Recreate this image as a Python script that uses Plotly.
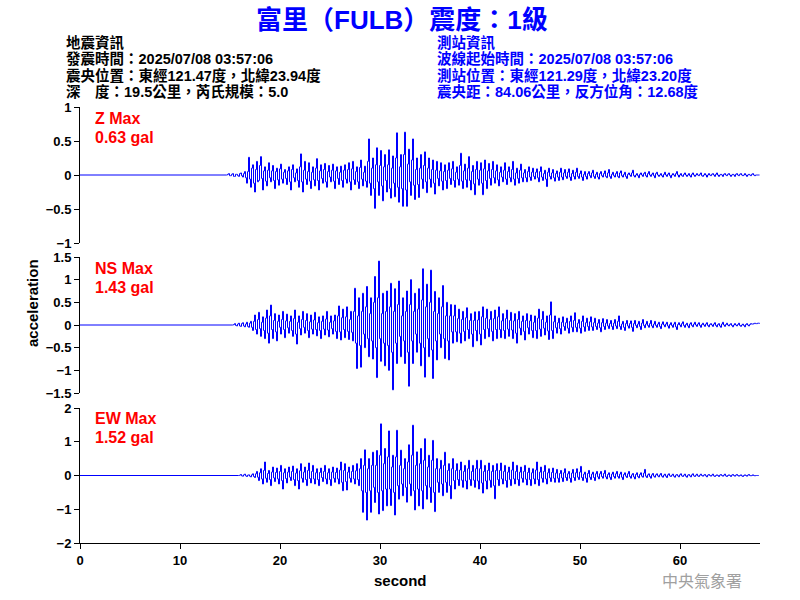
import plotly.graph_objects as go

# ---------------- data ----------------
dt = 0.1
z_t0, ns_t0, ew_t0 = 14.65, 15.25, 15.85

z_vals = [
    0.0, 0.01, 0.02, -0.01, -0.01, 0.01, 0.02, -0.02, -0.02, 0.01, 0.01, -0.01, -0.02, 0.02, 0.03, -0.01, -0.03, 0.02, 0.05, -0.04,
    -0.12, 0.05, 0.26, -0.06, -0.18, 0.1, 0.15, -0.12, -0.25, 0.08, 0.2, -0.1, -0.08, 0.14, 0.27, -0.05, -0.22, 0.06, 0.12, -0.09,
    -0.16, 0.07, 0.18, -0.04, -0.1, 0.06, 0.14, -0.08, -0.2, 0.05, 0.1, -0.07, -0.15, 0.09, 0.16, -0.06, -0.12, 0.04, 0.08, -0.05,
    -0.14, 0.06, 0.12, -0.1, -0.22, 0.08, 0.15, -0.04, -0.1, 0.03, 0.09, -0.08, -0.18, 0.12, 0.31, -0.1, -0.25, 0.07, 0.2, -0.06,
    -0.14, 0.05, 0.18, -0.09, -0.2, 0.04, 0.12, -0.07, -0.16, 0.1, 0.24, -0.08, -0.22, 0.06, 0.15, -0.05, -0.12, 0.08, 0.17, -0.1,
    -0.18, 0.05, 0.14, -0.03, -0.1, 0.07, 0.16, -0.09, -0.2, 0.06, 0.12, -0.05, -0.14, 0.04, 0.13, -0.08, -0.18, 0.07, 0.15, -0.06,
    -0.12, 0.08, 0.18, -0.1, -0.22, 0.09, 0.2, -0.07, -0.14, 0.05, 0.12, -0.1, -0.2, 0.11, 0.22, -0.06, -0.16, 0.04, 0.13, -0.09,
    -0.18, 0.2, 0.53, -0.12, -0.3, 0.1, 0.25, -0.2, -0.49, 0.15, 0.4, -0.1, -0.3, 0.14, 0.36, -0.16, -0.38, 0.12, 0.3, -0.08,
    -0.25, 0.15, 0.37, -0.2, -0.34, 0.1, 0.28, -0.12, -0.32, 0.25, 0.62, -0.18, -0.4, 0.12, 0.3, -0.2, -0.46, 0.3, 0.63, -0.22,
    -0.46, 0.16, 0.38, -0.1, -0.3, 0.22, 0.53, -0.15, -0.36, 0.08, 0.25, -0.14, -0.33, 0.1, 0.3, -0.06, -0.2, 0.14, 0.34, -0.1,
    -0.26, 0.1, 0.25, -0.06, -0.18, 0.08, 0.22, -0.12, -0.28, 0.07, 0.2, -0.05, -0.16, 0.06, 0.18, -0.09, -0.22, 0.05, 0.15, -0.08,
    -0.2, 0.07, 0.18, -0.05, -0.14, 0.09, 0.2, -0.08, -0.18, 0.04, 0.12, -0.06, -0.15, 0.14, 0.32, -0.09, -0.2, 0.06, 0.16, -0.07,
    -0.18, 0.1, 0.27, -0.08, -0.22, 0.05, 0.14, -0.13, -0.29, 0.08, 0.2, -0.06, -0.15, 0.07, 0.18, -0.12, -0.29, 0.09, 0.22, -0.08,
    -0.2, 0.06, 0.17, -0.05, -0.15, 0.08, 0.2, -0.04, -0.12, 0.06, 0.15, -0.07, -0.16, 0.04, 0.12, -0.03, -0.1, 0.07, 0.18, -0.06,
    -0.14, 0.05, 0.12, -0.04, -0.1, 0.08, 0.2, -0.06, -0.15, 0.03, 0.1, -0.05, -0.12, 0.07, 0.16, -0.04, -0.1, 0.03, 0.08, -0.04,
    -0.1, 0.05, 0.12, -0.03, -0.08, 0.04, 0.1, -0.02, -0.06, 0.04, 0.09, -0.04, -0.1, 0.05, 0.12, -0.03, -0.08, 0.02, 0.07, -0.06,
    -0.17, 0.04, 0.1, -0.02, -0.06, 0.03, 0.08, -0.04, -0.09, 0.02, 0.06, -0.03, -0.08, 0.04, 0.1, -0.03, -0.07, 0.03, 0.08, -0.02,
    -0.05, 0.04, 0.09, -0.03, -0.08, 0.02, 0.07, -0.02, -0.06, 0.04, 0.1, -0.02, -0.05, 0.02, 0.06, -0.03, -0.08, 0.01, 0.05, -0.02,
    -0.06, 0.02, 0.05, -0.01, -0.04, 0.03, 0.07, -0.02, -0.05, 0.01, 0.04, -0.03, -0.06, 0.02, 0.05, -0.01, -0.03, 0.02, 0.06, -0.02,
    -0.04, 0.03, 0.08, -0.02, -0.05, 0.01, 0.04, -0.01, -0.03, 0.02, 0.05, -0.02, -0.04, 0.03, 0.06, -0.01, -0.03, 0.01, 0.04, -0.02,
    -0.05, 0.01, 0.03, 0.0, -0.02, 0.03, 0.07, -0.01, -0.03, 0.0, 0.02, -0.01, -0.04, 0.01, 0.03, 0.0, -0.02, 0.02, 0.04, -0.01,
    -0.03, 0.02, 0.05, 0.0, -0.02, 0.01, 0.03, -0.01, -0.04, 0.02, 0.04, 0.0, -0.02, 0.0, 0.02, -0.01, -0.03, 0.01, 0.04, 0.0,
    -0.02, 0.01, 0.03, -0.01, -0.04, 0.0, 0.02, 0.0, -0.02, 0.02, 0.05, 0.0, -0.03, 0.0, 0.02, -0.01, -0.02, 0.01, 0.03, 0.0,
    -0.02, 0.0, 0.02, -0.01, -0.03, 0.01, 0.03, 0.0, -0.02, 0.0, 0.02, 0.0, -0.01, 0.01, 0.03, -0.01, -0.02, 0.0, 0.02, 0.0,
    -0.03, 0.0, 0.02, 0.0, -0.01, 0.01, 0.02, 0.0, -0.02, 0.01, 0.03, 0.0, -0.02, 0.0, 0.01, 0.0, -0.02, 0.01, 0.02, 0.0,
    -0.01, 0.01, 0.02, 0.0, -0.02, 0.0, 0.01, 0.0, -0.02, 0.01, 0.02, 0.0, -0.01, 0.01, 0.02, 0.0, -0.01, 0.0, 0.02, 0.0,
    -0.02, 0.0, 0.01, 0.0, -0.01, 0.01, 0.02, 0.0, -0.01, 0.0, 0.0, 0.0, 0.0, 0.0,
]

ns_vals = [
    0.0, 0.01, 0.03, -0.01, -0.02, 0.02, 0.04, -0.02, -0.03, 0.03, 0.05, -0.02, -0.04, 0.02, 0.06, -0.03, -0.05, 0.04, 0.08, -0.05,
    -0.12, 0.08, 0.22, -0.1, -0.2, 0.12, 0.28, -0.08, -0.25, 0.06, 0.18, -0.12, -0.3, 0.15, 0.33, -0.18, -0.4, 0.2, 0.44, -0.1,
    -0.3, 0.1, 0.25, -0.15, -0.35, 0.08, 0.22, -0.05, -0.2, 0.12, 0.3, -0.1, -0.28, 0.09, 0.24, -0.06, -0.18, 0.08, 0.2, -0.12,
    -0.25, 0.14, 0.33, -0.2, -0.42, 0.06, 0.2, -0.08, -0.22, 0.12, 0.3, -0.05, -0.18, 0.1, 0.25, -0.12, -0.28, 0.07, 0.22, -0.09,
    -0.2, 0.11, 0.28, -0.1, -0.24, 0.05, 0.18, -0.12, -0.3, 0.08, 0.2, -0.09, -0.22, 0.13, 0.3, -0.11, -0.26, 0.06, 0.2, -0.08,
    -0.2, 0.09, 0.22, -0.14, -0.3, 0.2, 0.42, -0.15, -0.33, 0.16, 0.35, -0.1, -0.28, 0.18, 0.4, -0.14, -0.32, 0.12, 0.3, -0.16,
    -0.35, 0.3, 0.81, -0.4, -0.96, 0.2, 0.6, -0.45, -0.93, 0.3, 0.7, -0.2, -0.5, 0.4, 0.85, -0.3, -0.7, 0.25, 0.6, -0.35,
    -0.75, 0.5, 1.07, -0.5, -1.16, 0.6, 1.41, -0.3, -0.8, 0.25, 0.7, -0.4, -0.9, 0.3, 0.75, -0.45, -1.0, 0.4, 0.92, -0.6,
    -1.43, 0.3, 0.8, -0.4, -0.85, 0.45, 0.97, -0.25, -0.7, 0.2, 0.6, -0.35, -0.85, 0.3, 0.75, -0.6, -1.35, 0.45, 1.0, -0.35,
    -0.85, 0.3, 0.7, -0.2, -0.6, 0.35, 0.8, -0.4, -0.9, 0.55, 1.24, -0.5, -1.15, 0.4, 0.9, -0.3, -0.7, 0.5, 1.21, -0.55,
    -1.18, 0.3, 0.74, -0.35, -0.77, 0.25, 0.6, -0.2, -0.5, 0.4, 0.87, -0.3, -0.74, 0.2, 0.5, -0.35, -0.77, 0.2, 0.45, -0.15,
    -0.4, 0.2, 0.44, -0.15, -0.37, 0.14, 0.35, -0.18, -0.4, 0.12, 0.3, -0.14, -0.35, 0.16, 0.38, -0.1, -0.3, 0.1, 0.25, -0.2,
    -0.48, 0.1, 0.29, -0.12, -0.35, 0.11, 0.3, -0.2, -0.44, 0.18, 0.4, -0.1, -0.3, 0.15, 0.35, -0.08, -0.26, 0.12, 0.3, -0.14,
    -0.35, 0.14, 0.33, -0.1, -0.3, 0.18, 0.4, -0.1, -0.28, 0.09, 0.25, -0.12, -0.3, 0.14, 0.33, -0.09, -0.25, 0.1, 0.28, -0.11,
    -0.3, 0.09, 0.25, -0.18, -0.4, 0.12, 0.3, -0.07, -0.22, 0.08, 0.2, -0.14, -0.33, 0.1, 0.25, -0.06, -0.2, 0.09, 0.22, -0.12,
    -0.28, 0.06, 0.2, -0.12, -0.3, 0.15, 0.35, -0.09, -0.25, 0.12, 0.3, -0.07, -0.22, 0.06, 0.2, -0.13, -0.32, 0.22, 0.51, -0.12,
    -0.3, 0.07, 0.2, -0.06, -0.18, 0.05, 0.15, -0.08, -0.2, 0.06, 0.18, -0.03, -0.12, 0.05, 0.15, -0.07, -0.18, 0.08, 0.2, -0.05,
    -0.15, 0.1, 0.27, -0.05, -0.15, 0.04, 0.12, -0.07, -0.18, 0.08, 0.2, -0.04, -0.14, 0.05, 0.15, -0.03, -0.12, 0.07, 0.18, -0.04,
    -0.12, 0.05, 0.15, -0.03, -0.1, 0.04, 0.12, -0.06, -0.15, 0.05, 0.14, -0.03, -0.1, 0.04, 0.12, -0.02, -0.08, 0.03, 0.1, -0.03,
    -0.1, 0.04, 0.12, -0.02, -0.08, 0.08, 0.2, -0.03, -0.1, 0.02, 0.08, -0.05, -0.12, 0.03, 0.1, -0.02, -0.07, 0.03, 0.09, -0.05,
    -0.14, 0.03, 0.1, -0.01, -0.06, 0.02, 0.08, -0.03, -0.1, 0.04, 0.12, -0.01, -0.06, 0.02, 0.08, -0.01, -0.05, 0.03, 0.1, -0.02,
    -0.06, 0.02, 0.08, -0.01, -0.05, 0.02, 0.06, -0.03, -0.08, 0.02, 0.07, 0.0, -0.04, 0.02, 0.06, -0.02, -0.07, 0.01, 0.05, -0.01,
    -0.05, 0.02, 0.06, -0.04, -0.1, 0.01, 0.05, 0.0, -0.04, 0.03, 0.07, -0.01, -0.05, 0.01, 0.04, -0.02, -0.06, 0.02, 0.05, -0.01,
    -0.04, 0.02, 0.06, 0.0, -0.03, 0.02, 0.05, -0.01, -0.05, 0.01, 0.04, 0.0, -0.03, 0.02, 0.05, -0.01, -0.04, 0.01, 0.03, 0.0,
    -0.03, 0.02, 0.05, -0.01, -0.04, 0.01, 0.03, -0.02, -0.05, 0.02, 0.06, 0.0, -0.03, 0.01, 0.04, 0.0, -0.02, 0.01, 0.03, -0.01,
    -0.04, 0.0, 0.03, 0.0, -0.02, 0.01, 0.04, -0.01, -0.03, 0.0, 0.02, -0.01, -0.04, 0.01, 0.03, 0.0, -0.02, 0.01, 0.03, 0.02,
    0.02, 0.03, 0.04, 0.03, 0.03, 0.04, 0.04, 0.03,
]

ew_vals = [
    0.0, 0.01, 0.03, -0.01, -0.02, 0.02, 0.04, -0.01, -0.03, 0.01, 0.02, -0.02, -0.04, 0.02, 0.05, -0.03, -0.06, 0.05, 0.12, -0.05,
    -0.15, 0.08, 0.2, -0.1, -0.25, 0.15, 0.4, -0.08, -0.2, 0.06, 0.15, -0.12, -0.3, 0.1, 0.25, -0.07, -0.18, 0.09, 0.22, -0.1,
    -0.25, 0.12, 0.3, -0.15, -0.4, 0.08, 0.2, -0.09, -0.22, 0.1, 0.25, -0.05, -0.15, 0.12, 0.28, -0.12, -0.3, 0.07, 0.2, -0.15,
    -0.4, 0.14, 0.35, -0.08, -0.2, 0.1, 0.25, -0.12, -0.3, 0.15, 0.37, -0.09, -0.22, 0.12, 0.3, -0.1, -0.25, 0.08, 0.2, -0.12,
    -0.3, 0.09, 0.22, -0.06, -0.18, 0.12, 0.3, -0.1, -0.25, 0.08, 0.2, -0.12, -0.3, 0.1, 0.25, -0.08, -0.2, 0.09, 0.22, -0.1,
    -0.25, 0.16, 0.4, -0.2, -0.45, 0.15, 0.35, -0.18, -0.43, 0.1, 0.25, -0.08, -0.2, 0.12, 0.3, -0.1, -0.25, 0.14, 0.35, -0.12,
    -0.3, 0.2, 0.5, -0.45, -1.09, 0.3, 0.76, -0.5, -1.32, 0.2, 0.5, -0.45, -1.09, 0.3, 0.69, -0.35, -0.8, 0.3, 0.74, -0.5,
    -1.14, 0.6, 1.53, -0.45, -1.04, 0.35, 0.8, -0.4, -0.9, 0.55, 1.32, -0.4, -0.89, 0.25, 0.6, -0.5, -1.17, 0.55, 1.34, -0.3,
    -0.7, 0.3, 0.75, -0.25, -0.6, 0.2, 0.5, -0.35, -0.79, 0.4, 0.91, -0.25, -0.6, 0.6, 1.49, -0.45, -1.02, 0.3, 0.7, -0.4,
    -0.9, 0.35, 0.8, -0.45, -0.99, 0.45, 1.09, -0.3, -0.7, 0.25, 0.6, -0.35, -0.8, 0.45, 1.04, -0.5, -1.07, 0.2, 0.5, -0.2,
    -0.5, 0.2, 0.45, -0.25, -0.6, 0.3, 0.69, -0.2, -0.5, 0.15, 0.35, -0.3, -0.69, 0.2, 0.5, -0.15, -0.4, 0.15, 0.35, -0.12,
    -0.3, 0.16, 0.4, -0.14, -0.35, 0.12, 0.3, -0.16, -0.4, 0.2, 0.45, -0.12, -0.3, 0.12, 0.3, -0.14, -0.35, 0.2, 0.45, -0.16,
    -0.4, 0.2, 0.45, -0.22, -0.52, 0.12, 0.3, -0.16, -0.4, 0.15, 0.37, -0.14, -0.35, 0.12, 0.3, -0.3, -0.69, 0.15, 0.35, -0.12,
    -0.3, 0.15, 0.37, -0.1, -0.25, 0.12, 0.3, -0.15, -0.35, 0.1, 0.25, -0.12, -0.3, 0.16, 0.4, -0.1, -0.25, 0.12, 0.3, -0.12,
    -0.3, 0.1, 0.25, -0.08, -0.2, 0.12, 0.3, -0.11, -0.28, 0.09, 0.22, -0.12, -0.3, 0.08, 0.2, -0.1, -0.25, 0.16, 0.4, -0.12,
    -0.3, 0.1, 0.25, -0.08, -0.2, 0.12, 0.3, -0.1, -0.25, 0.08, 0.2, -0.07, -0.18, 0.09, 0.22, -0.08, -0.2, 0.07, 0.18, -0.08,
    -0.2, 0.06, 0.15, -0.07, -0.18, 0.08, 0.2, -0.06, -0.15, 0.05, 0.12, -0.08, -0.2, 0.07, 0.18, -0.06, -0.15, 0.08, 0.2, -0.05,
    -0.12, 0.1, 0.27, -0.06, -0.15, 0.04, 0.1, -0.08, -0.2, 0.06, 0.15, -0.05, -0.12, 0.04, 0.1, -0.06, -0.15, 0.05, 0.12, -0.04,
    -0.1, 0.05, 0.12, -0.03, -0.08, 0.06, 0.15, -0.04, -0.1, 0.03, 0.08, -0.05, -0.12, 0.04, 0.1, -0.03, -0.08, 0.05, 0.12, -0.03,
    -0.08, 0.04, 0.1, -0.05, -0.12, 0.03, 0.08, -0.02, -0.06, 0.05, 0.12, -0.03, -0.08, 0.02, 0.06, -0.04, -0.1, 0.03, 0.08, -0.03,
    -0.07, 0.03, 0.08, -0.02, -0.05, 0.07, 0.18, -0.02, -0.06, 0.02, 0.05, -0.03, -0.08, 0.02, 0.06, -0.02, -0.05, 0.02, 0.05, -0.01,
    -0.04, 0.02, 0.06, -0.02, -0.05, 0.01, 0.04, -0.02, -0.06, 0.02, 0.05, -0.01, -0.03, 0.01, 0.04, -0.02, -0.05, 0.01, 0.03, -0.01,
    -0.04, 0.02, 0.05, -0.01, -0.03, 0.01, 0.04, -0.02, -0.05, 0.01, 0.03, -0.01, -0.04, 0.02, 0.05, -0.01, -0.03, 0.01, 0.04, -0.01,
    -0.03, 0.01, 0.04, 0.0, -0.02, 0.01, 0.03, -0.01, -0.04, 0.01, 0.03, 0.0, -0.02, 0.01, 0.04, -0.01, -0.03, 0.0, 0.02, 0.0,
    -0.03, 0.01, 0.03, 0.0, -0.02, 0.01, 0.04, -0.01, -0.03, 0.0, 0.02, 0.0, -0.03, 0.01, 0.03, 0.0, -0.02, 0.01, 0.03, 0.0,
    -0.02, 0.0, 0.02, -0.01, -0.03, 0.0, 0.02, 0.0, -0.02, 0.01, 0.03, 0.0, -0.01, 0.0, 0.02, 0.0, -0.01, 0.0, 0.0, 0.0, 0.01,
]

comp_labels = ["Z Max", "NS Max", "EW Max"]
max_labels = ["0.63 gal", "1.43 gal", "1.52 gal"]
z_ticks = [-1, -0.5, 0, 0.5, 1]
ns_ticks = [-1.5, -1, -0.5, 0, 0.5, 1, 1.5]
ew_ticks = [-2, -1, 0, 1, 2]
x_ticks = [0, 10, 20, 30, 40, 50, 60]

title_text = "富里（FULB）震度：1級"
left_info = ["地震資訊", "發震時間：2025/07/08 03:57:06",
             "震央位置：東經121.47度，北緯23.94度",
             "深　度：19.5公里，芮氏規模：5.0"]
right_info = ["測站資訊", "波線起始時間：2025/07/08 03:57:06",
              "測站位置：東經121.29度，北緯23.20度",
              "震央距：84.06公里，反方位角：12.68度"]

# ---------------- figure ----------------
def times(t0, vals):
    return [0.0] + [t0 + i * dt for i in range(len(vals))]

W, H = 800, 600
L, T = 80, 107
PW, PH = 680, 436
R, B = W - L - PW, H - T - PH

def px(x):   # reference pixel -> paper
    return (x - L) / PW

def py(y):
    return (H - B - y) / PH

BLUE = "#0000FF"
fig = go.Figure()
series = [(z_t0, z_vals, "x", "y"), (ns_t0, ns_vals, "x2", "y2"), (ew_t0, ew_vals, "x3", "y3")]
for t0, vals, xa, ya in series:
    fig.add_trace(go.Scatter(x=times(t0, vals), y=[0.0] + vals, xaxis=xa, yaxis=ya,
                             mode="lines", line=dict(color=BLUE, width=1, shape="hv"),
                             showlegend=False, hoverinfo="skip"))

tickfont = dict(family="Liberation Sans, Arial", size=13, color="black", weight="bold")
yax_common = dict(showline=True, linecolor="black", linewidth=1, ticks="outside", ticklen=5,
                  tickcolor="black", showgrid=False, zeroline=False, tickfont=tickfont)
xax_hidden = dict(range=[0, 68], visible=False, showgrid=False, zeroline=False)

fig.update_layout(
    width=W, height=H, plot_bgcolor="white", paper_bgcolor="white",
    margin=dict(l=L, r=R, t=T, b=B),
    xaxis=dict(domain=[0, 1], anchor="y", **xax_hidden),
    xaxis2=dict(domain=[0, 1], anchor="y2", **xax_hidden),
    xaxis3=dict(domain=[0, 1], anchor="y3", range=[0, 68], showline=True, linecolor="black",
                ticks="outside", ticklen=5, tickcolor="black", tickvals=x_ticks,
                showgrid=False, zeroline=False, tickfont=tickfont),
    yaxis=dict(domain=[py(243), py(107)], range=[-1, 1], tickvals=z_ticks, anchor="x", **yax_common),
    yaxis2=dict(domain=[py(393), py(257)], range=[-1.5, 1.5], tickvals=ns_ticks, anchor="x2", **yax_common),
    yaxis3=dict(domain=[py(543), py(408)], range=[-2, 2], tickvals=ew_ticks, anchor="x3", **yax_common),
)

ann = []
MIX = "Liberation Sans, Noto Sans CJK TC"
ann.append(dict(text=title_text, x=px(402), y=py(20), xref="paper", yref="paper",
                xanchor="center", yanchor="middle", showarrow=False,
                font=dict(family=MIX, size=26, color=BLUE, weight="bold")))

def block(lines):
    # outer font sets the line pitch (1.3em); inner span sets glyph size
    return "<br>".join(f"<span style='font-size:14.5px'>{s}</span>" for s in lines)

ann.append(dict(text=block(left_info), x=px(64), y=py(67), xref="paper", yref="paper",
                xanchor="left", yanchor="middle", align="left", showarrow=False,
                font=dict(family=MIX, size=12.5, color="black", weight="bold")))
ann.append(dict(text=block(right_info), x=px(435), y=py(67), xref="paper", yref="paper",
                xanchor="left", yanchor="middle", align="left", showarrow=False,
                font=dict(family=MIX, size=12.5, color=BLUE, weight="bold")))

label_y = [(118, 137), (268, 287), (418, 437)]
for (y1, y2), c, m in zip(label_y, comp_labels, max_labels):
    for yy, s in ((y1, c), (y2, m)):
        ann.append(dict(text=s, x=px(93), y=py(yy), xref="paper", yref="paper",
                        xanchor="left", yanchor="middle", showarrow=False,
                        font=dict(family="Liberation Sans, Arial", size=16, color="#FF0000", weight="bold")))
ann.append(dict(text="acceleration", x=px(32), y=py(303), xref="paper", yref="paper",
                xanchor="center", yanchor="middle", showarrow=False, textangle=-90,
                font=dict(family="Liberation Sans, Arial", size=15, color="black", weight="bold")))
ann.append(dict(text="second", x=px(400), y=py(580), xref="paper", yref="paper",
                xanchor="center", yanchor="middle", showarrow=False,
                font=dict(family="Liberation Sans, Arial", size=15, color="black", weight="bold")))
ann.append(dict(text="中央氣象署", x=px(702), y=py(580), xref="paper", yref="paper",
                xanchor="center", yanchor="middle", showarrow=False,
                font=dict(family="Noto Sans CJK TC", size=16, color="#A0A0A0")))
fig.update_layout(annotations=ann)

# remove the default 8px page margin so the 800x600 figure fills the window exactly
fig.write_html("out.html", config={"displayModeBar": False},
               post_script="document.body.style.margin='0';")
